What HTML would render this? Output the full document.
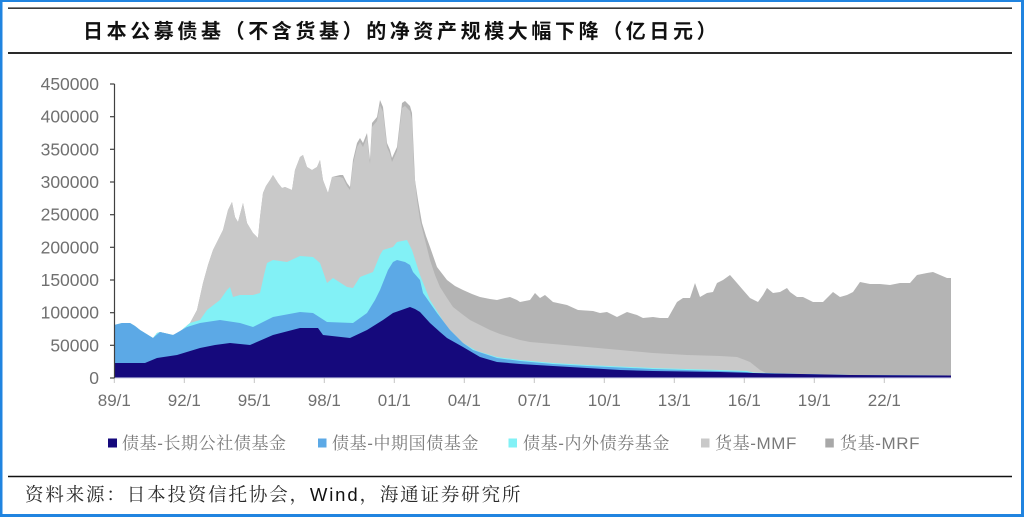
<!DOCTYPE html>
<html><head><meta charset="utf-8"><style>
html,body{margin:0;padding:0;background:#fff;}
body{width:1024px;height:517px;overflow:hidden;}
svg{display:block;}
</style></head><body>
<svg width="1024" height="517" viewBox="0 0 1024 517" xmlns="http://www.w3.org/2000/svg">
<rect x="0" y="0" width="1024" height="517" fill="#fff"/>
<!-- frame -->
<rect x="0" y="0" width="1024" height="2" fill="#2084e0"/>
<rect x="0" y="514" width="1024" height="3" fill="#2084e0"/>
<rect x="0" y="0" width="2.5" height="517" fill="#2084e0"/>
<rect x="1021" y="0" width="3" height="517" fill="#2084e0"/>
<!-- rules -->
<line x1="8" y1="8.2" x2="1012" y2="8.2" stroke="#3a3a3a" stroke-width="1.6"/>
<line x1="8" y1="53" x2="1012" y2="53" stroke="#2a2a2a" stroke-width="2"/>
<line x1="8" y1="476.5" x2="1012" y2="476.5" stroke="#111" stroke-width="1.6"/>
<!-- title -->
<text x="83" y="38" font-family="'Liberation Sans','Noto Sans CJK SC',sans-serif" font-size="20" font-weight="bold" letter-spacing="3.6" fill="#111">日本公募债基（不含货基）的净资产规模大幅下降（亿日元）</text>

<!-- areas -->
<polygon fill="#b4b4b4" points="114.3,377.5 114.3,325 122,323 130,323 135,326 140,330 153,338 157,333 160,332 173,335 177,334 190,323 197,310 203,283 208,265 213,250 218,240 223,230 228,210 232,202 235,217 238,222 243,203 247,223 253,233 258,238 260,217 263,193 266,186 270,180 273,175 278,183 282,188 285,187 292,190 295,170 300,157 303,155 307,167 312,170 317,167 320,160 323,180 328,193 332,177 336,176 340,175 343,175 347,183 350,187 353,160 357,143 360,138 363,143 367,133 370,160 372,123 377,117 380,100 383,107 387,143 390,150 392,158 397,147 402,103 405,101 407,103 410,106 412,113 415,180 418,200 422,223 426,236 430,247 437,267 447,280 455,286 463,290 472,294 480,297 490,299 497,300 505,298 510,297 517,300 520,302 530,300 535,293 540,298 545,295 553,302 567,305 578,310 593,311 600,313 607,312 617,317 627,312 637,315 643,318 653,317 660,318 668,318 677,302 683,298 690,298 695,283 700,297 707,293 713,292 717,283 723,280 730,275 737,283 743,290 750,298 758,302 763,295 767,288 773,293 780,292 787,288 790,292 797,297 803,297 813,302 823,302 833,292 840,297 847,295 853,292 860,282 870,284 880,284 890,285 900,283 910,283 917,275 927,273 933,272 940,275 947,278 951,278 951,377.5"/>
<polygon fill="#c9c9c9" points="114.3,377.5 114.3,325 122,323 130,323 135,326 140,330 153,338 157,333 160,332 173,335 177,334 190,323 197,310 203,283 208,265 213,250 218,240 223,230 228,210 232,202 235,217 238,222 243,203 247,223 253,233 258,238 260,217 263,193 266,186 270,180 273,175 278,183 282,188 285,187 292,190 295,170 300,157 303,155 307,167 312,170 317,167 320,160 323,180 328,193 332,177 336,177 340,177 343,178 347,186 350,190 353,164 357,147 360,142 363,147 367,137 370,164 372,127 377,121 380,105 383,112 387,147 390,154 392,162 397,151 402,108 405,106 407,108 410,111 412,120 414,170 417,200 420,220 425,240 430,260 435,275 440,287 447,298 453,307 462,314 470,320 480,325 490,330 500,334 510,337 520,340 530,342 553,344 587,347 620,350 653,353 687,355 720,356 737,357 745,360 750,362 755,366 760,370 767,373.5 800,374 850,375 951,375.5 951,377.5"/>
<polygon fill="#82f1f6" points="114.3,377.5 114.3,325 122,323 130,323 135,326 140,330 153,338 157,333 160,332 173,335 177,334 190,323 200,320 207,310 220,300 227,290 230,287 233,297 240,295 253,295 260,293 264,275 267,263 273,260 287,262 300,256 313,257 320,263 327,283 333,278 347,287 353,288 360,277 373,272 380,255 383,250 393,247 397,242 407,240 412,250 420,275 430,300 447,327 463,343 477,351 497,357 520,360 553,363 587,365 653,368 720,370 747,371 753,372.5 800,374 850,375 951,375.5 951,377.5"/>
<polygon fill="#5ca9e6" points="114.3,377.5 114.3,325 122,323 130,323 135,326 140,330 153,338 160,332 173,335 187,327 200,323 220,320 240,323 253,327 273,317 300,312 313,313 327,322 353,323 367,313 375,300 380,290 388,270 393,262 397,260 405,262 410,265 413,272 420,280 423,293 437,313 450,330 463,343 473,350 497,358 520,361 553,364 587,366 653,369 720,371 747,372 753,373 800,374 850,375 951,375.5 951,377.5"/>
<polygon fill="#15097c" points="114.3,377.5 114.3,363 145,363 157,358 177,355 200,348 215,345 230,343 250,345 273,335 300,328 318,328 323,335 350,338 367,330 383,320 393,313 410,307 415,309 420,312 430,323 440,332 447,338 463,347 480,357 497,362 520,364 553,366 587,368 620,370 653,371 720,372 753,373 800,374 850,375 951,375.5 951,377.5"/>

<!-- x axis -->
<line x1="114" y1="377.8" x2="951" y2="377.8" stroke="#9a9ac8" stroke-width="1"/>
<g stroke="#c4c4c4" stroke-width="1">
<line x1="114.3" y1="378" x2="114.3" y2="383"/>
<line x1="184.3" y1="378" x2="184.3" y2="383"/>
<line x1="254.3" y1="378" x2="254.3" y2="383"/>
<line x1="324.3" y1="378" x2="324.3" y2="383"/>
<line x1="394.3" y1="378" x2="394.3" y2="383"/>
<line x1="464.3" y1="378" x2="464.3" y2="383"/>
<line x1="534.3" y1="378" x2="534.3" y2="383"/>
<line x1="604.3" y1="378" x2="604.3" y2="383"/>
<line x1="674.3" y1="378" x2="674.3" y2="383"/>
<line x1="744.3" y1="378" x2="744.3" y2="383"/>
<line x1="814.3" y1="378" x2="814.3" y2="383"/>
<line x1="884.3" y1="378" x2="884.3" y2="383"/>
</g>
<g font-family="'Liberation Sans',sans-serif" font-size="17" fill="#707070" text-anchor="middle">
<text x="114.3" y="406">89/1</text>
<text x="184.3" y="406">92/1</text>
<text x="254.3" y="406">95/1</text>
<text x="324.3" y="406">98/1</text>
<text x="394.3" y="406">01/1</text>
<text x="464.3" y="406">04/1</text>
<text x="534.3" y="406">07/1</text>
<text x="604.3" y="406">10/1</text>
<text x="674.3" y="406">13/1</text>
<text x="744.3" y="406">16/1</text>
<text x="814.3" y="406">19/1</text>
<text x="884.3" y="406">22/1</text>
</g>

<!-- y axis -->
<line x1="114.5" y1="84" x2="114.5" y2="378" stroke="#404040" stroke-width="1.2"/>
<g stroke="#404040" stroke-width="1.2">
<line x1="110" y1="84" x2="114.5" y2="84"/>
<line x1="110" y1="116.7" x2="114.5" y2="116.7"/>
<line x1="110" y1="149.3" x2="114.5" y2="149.3"/>
<line x1="110" y1="182" x2="114.5" y2="182"/>
<line x1="110" y1="214.7" x2="114.5" y2="214.7"/>
<line x1="110" y1="247.3" x2="114.5" y2="247.3"/>
<line x1="110" y1="280" x2="114.5" y2="280"/>
<line x1="110" y1="312.7" x2="114.5" y2="312.7"/>
<line x1="110" y1="345.3" x2="114.5" y2="345.3"/>
<line x1="110" y1="378" x2="114.5" y2="378"/>
</g>
<g font-family="'Liberation Sans',sans-serif" font-size="17.5" fill="#707070" text-anchor="end">
<text x="99" y="90">450000</text>
<text x="99" y="122.7">400000</text>
<text x="99" y="155.3">350000</text>
<text x="99" y="188">300000</text>
<text x="99" y="220.7">250000</text>
<text x="99" y="253.3">200000</text>
<text x="99" y="286">150000</text>
<text x="99" y="318.7">100000</text>
<text x="99" y="351.3">50000</text>
<text x="99" y="384">0</text>
</g>

<!-- legend -->
<rect x="108" y="438.5" width="9" height="9" fill="#15097c"/>
<rect x="318" y="438.5" width="8.5" height="9" fill="#5ca9e6"/>
<rect x="508.5" y="438.5" width="8.5" height="9" fill="#82f1f6"/>
<rect x="701" y="438.5" width="8.5" height="9" fill="#c9c9c9"/>
<rect x="825.3" y="438.5" width="8.5" height="9" fill="#a8a8a8"/>
<g font-family="'Liberation Sans','Noto Serif CJK SC',serif" font-size="17" fill="#7a7a7a" letter-spacing="0.6">
<text x="122" y="449">债基-长期公社债基金</text>
<text x="332" y="449">债基-中期国债基金</text>
<text x="523" y="449">债基-内外债券基金</text>
<text x="715" y="449">货基-MMF</text>
<text x="840" y="449">货基-MRF</text>
</g>

<!-- source -->
<text x="25" y="501" font-family="'Liberation Sans','Noto Serif CJK SC',serif" font-size="18.5" letter-spacing="1.85" fill="#2a2a2a">资料来源：日本投资信托协会，<tspan fill="#111">Wind</tspan>，海通证券研究所</text>
</svg>
</body></html>
